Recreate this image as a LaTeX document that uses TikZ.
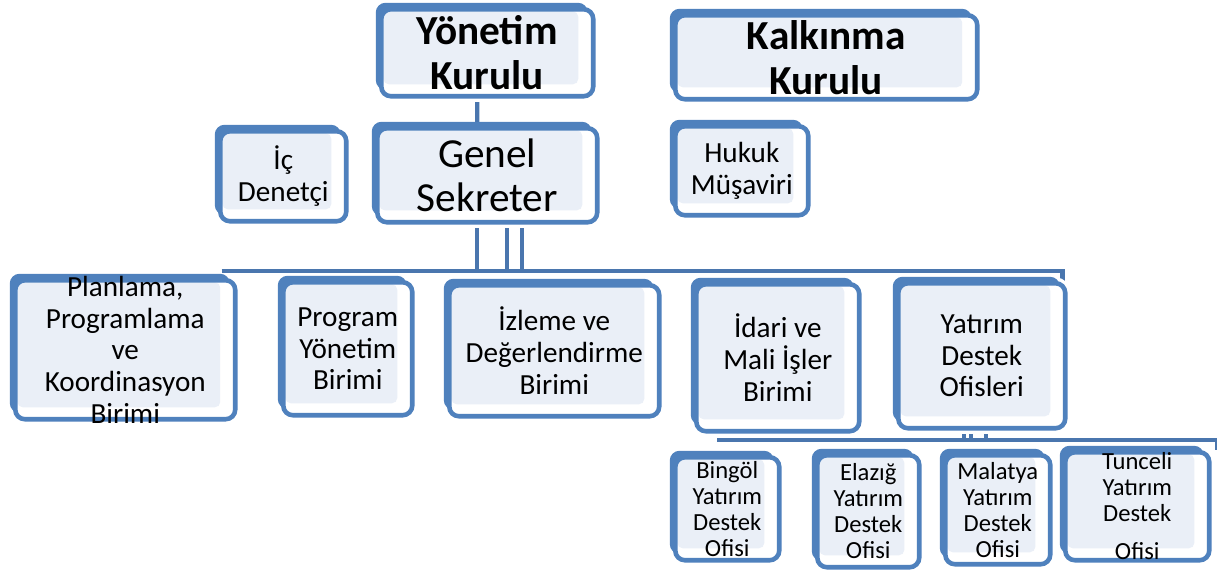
\documentclass[tikz,border=0pt]{standalone}
\usepackage{fontspec}
\setmainfont{Carlito}
\usetikzlibrary{shadows,backgrounds}
\definecolor{boxblue}{HTML}{4F81BD}
\definecolor{linkblue}{HTML}{4A76AE}
\definecolor{boxfill}{HTML}{EAEFF7}
\tikzstyle{unit} = [draw=boxblue, line width=2.6pt, rounded corners=5.5pt, fill=white, inner sep=0pt, align=center, anchor=north west,
    preaction={draw=white, line width=6.5pt},
    general shadow={fill=boxblue, shadow xshift=-0.11cm, shadow yshift=0.13cm},
    path picture={\fill[boxfill, rounded corners=3pt] ([shift={(1.2pt,-1.2pt)}]path picture bounding box.north west) rectangle ([shift={(-0.3cm,0.24cm)}]path picture bounding box.south east);}]
\tikzstyle{board} = [unit, font=\fontsize{23.5}{25.5}\selectfont\bfseries]
\tikzstyle{head} = [unit, font=\fontsize{23.5}{25.5}\selectfont]
\tikzstyle{dept} = [unit, font=\fontsize{16.6}{18.1}\selectfont]
\tikzstyle{office} = [unit, font=\fontsize{14}{14.8}\selectfont]
\tikzstyle{link} = [draw=linkblue, line width=2.5pt]

\begin{document}
\begin{tikzpicture}[x=0.02cm, y=-0.02cm]
        \useasboundingbox (0,0) rectangle (1217,570);

        % kurullar
        \node[board, minimum width=4.24cm, minimum height=1.74cm] (yonetim) at (379,7) {Yönetim\\Kurulu};
        \node[board, minimum width=6.04cm, minimum height=1.68cm] (kalkinma) at (673,13) {Kalkınma\\Kurulu};

        % genel sekreter
        \node[dept, minimum width=2.52cm, minimum height=1.80cm] (icdenetci) at (218,129) {İç\\Denetçi};
        \node[head, minimum width=4.40cm, minimum height=1.88cm] (genel) at (375,126) {Genel\\Sekreter};
        \node[dept, minimum width=2.66cm, minimum height=1.78cm] (hukuk) at (673,124) {Hukuk\\Müşaviri};

        % birimler
        \node[dept, minimum width=4.40cm, minimum height=2.78cm, inner ysep=-5pt] (plan) at (13,278) {Planlama,\\Programlama\\ve\\Koordinasyon\\Birimi};
        \node[dept, minimum width=2.58cm, minimum height=2.66cm] (program) at (281,280) {Program\\Yönetim\\Birimi};
        \node[dept, minimum width=4.20cm, minimum height=2.62cm] (izleme) at (447,283) {İzleme ve\\Değerlendirme\\Birimi};
        \node[dept, minimum width=3.26cm, minimum height=2.94cm] (idari) at (694,282) {İdari ve\\Mali İşler\\Birimi};
        \node[dept, minimum width=3.34cm, minimum height=2.90cm] (yatirim) at (896,281) {Yatırım\\Destek\\Ofisleri};

        % ofisler
        \node[office, minimum width=2.08cm, minimum height=2.06cm] (bingol) at (673,455) {Bingöl\\Yatırım\\Destek\\Ofisi};
        \node[office, minimum width=2.04cm, minimum height=2.24cm] (elazig) at (815,453) {Elazığ\\Yatırım\\Destek\\Ofisi};
        \node[office, minimum width=2.10cm, minimum height=2.18cm] (malatya) at (943,453) {Malatya\\Yatırım\\Destek\\Ofisi};
        \node[office, minimum width=2.88cm, minimum height=2.16cm, inner ysep=-5pt] (tunceli) at (1063,450) {Tunceli\\Yatırım\\Destek\\[7pt]Ofisi};

        \begin{scope}[on background layer]
            \draw[link] ([xshift=-0.2cm]yonetim.south) -- ([xshift=-0.2cm]genel.north);

            \coordinate (rowbus) at (500,271);
            \foreach \dx in {-0.2,0.4,0.7}
                \draw[link] ([xshift=\dx cm]genel.south) -- ([xshift=\dx cm]genel.south |- rowbus);
            \draw[link] ([xshift=-0.32cm]plan.north east |- rowbus) -- (rowbus) -| ([xshift=-0.1cm]yatirim.north east);

            \coordinate (officebus) at (975,440);
            \foreach \dx in {-0.35,-0.21,0.09}
                \draw[link] ([xshift=\dx cm]yatirim.south) -- ([xshift=\dx cm]yatirim.south |- officebus);
            \draw[link] ([xshift=-0.2cm]bingol.north |- officebus) -- (officebus) -| ([xshift=0.12cm]tunceli.north east);
        \end{scope}
    \end{tikzpicture}
\end{document}
